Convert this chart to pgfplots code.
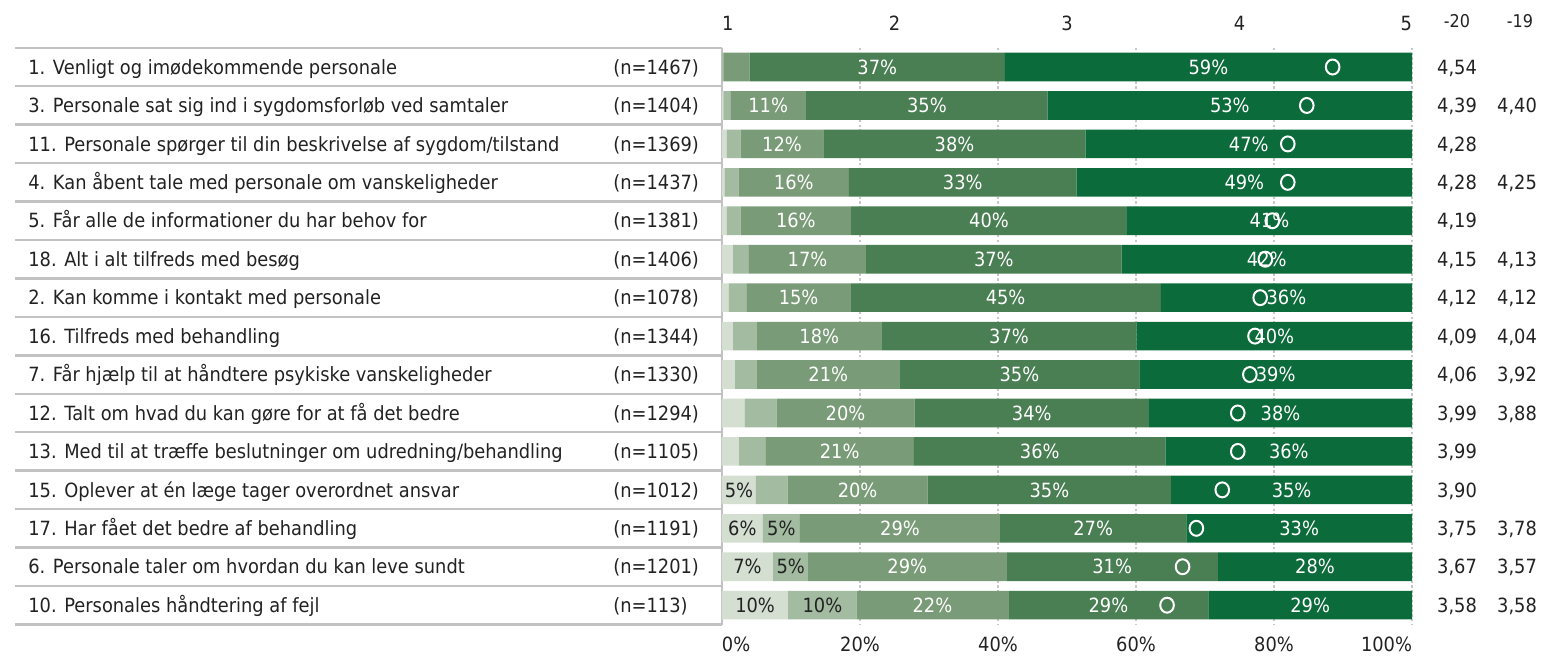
\documentclass[border=0pt]{standalone}
\usepackage{pgfplots}
\pgfplotsset{compat=1.18}
\usepackage{pgfplotstable}
\usepackage{fontspec}
\setmainfont{DejaVu Sans}[FakeStretch=0.91]
\definecolor{c1}{HTML}{D4DFD2}
\definecolor{c2}{HTML}{A3BBA1}
\definecolor{c3}{HTML}{7A9B78}
\definecolor{c4}{HTML}{4A7E53}
\definecolor{c5}{HTML}{0C6B3A}
\definecolor{sepgray}{HTML}{C2C2C2}
\definecolor{gridgray}{HTML}{C8C8C8}
\definecolor{txt}{HTML}{222222}

% segment shares (percent) per row
\pgfplotstableread{
row s1  s2  s3   s4   s5
1   0.0 0.2 3.8  37   59
2   0.2 1.0 11   35   52.8
3   0.7 2.0 12   38   47.3
4   0.4 2.0 16   33   48.6
5   0.7 2.0 16   40   41.3
6   1.6 2.3 17   37   42.1
7   1.0 2.6 15   45   36.4
8   1.6 3.5 18   37   39.9
9   1.9 3.2 20.6 34.8 39.5
10  3.3 4.6 20   34   38.1
11  2.5 3.8 21.5 36.5 35.7
12  4.9 4.6 20.3 35.3 34.9
13  5.9 5.4 29   27   32.7
14  7.4 5.1 28.7 30.7 28.1
15  9.6 9.9 22   29   29.5
}\bars

% labels on light segments (dark text): centre x, row, label
\pgfplotstableread{
x     row t
2.45  12  5
2.95  13  6
8.6   13  5
3.7   14  7
9.95  14  5
4.8   15  10
14.55 15  10
}\darklabs

% labels on darker segments (white text)
\pgfplotstableread{
x     row t
22.5  1   37
70.5  1   59
6.7   2   11
29.7  2   35
73.6  2   53
8.7   3   12
33.7  3   38
76.35 3   47
10.4  4   16
34.9  4   33
75.7  4   49
10.7  5   16
38.7  5   40
79.35 5   41
12.4  6   17
39.4  6   37
78.95 6   42
11.1  7   15
41.1  7   45
81.8  7   36
14.1  8   18
41.6  8   37
80.05 8   40
15.4  9   21
43.1  9   35
80.25 9   39
17.9  10  20
44.9  10  34
80.95 10  38
17.05 11  21
46.05 11  36
82.15 11  36
19.65 12  20
47.45 12  35
82.55 12  35
25.8  13  29
53.8  13  27
83.65 13  33
26.85 14  29
56.55 14  31
85.95 14  28
30.5  15  22
56    15  29
85.25 15  29
}\whitelabs

\pgfplotstableread{
row m    t
1   4.54 4,54
2   4.39 4,39
3   4.28 4,28
4   4.28 4,28
5   4.19 4,19
6   4.15 4,15
7   4.12 4,12
8   4.09 4,09
9   4.06 4,06
10  3.99 3,99
11  3.99 3,99
12  3.90 3,90
13  3.75 3,75
14  3.67 3,67
15  3.58 3,58
}\means

\pgfplotstableread{
row m    t
2   4.40 4,40
4   4.25 4,25
6   4.13 4,13
7   4.12 4,12
8   4.04 4,04
9   3.92 3,92
10  3.88 3,88
13  3.78 3,78
14  3.57 3,57
15  3.58 3,58
}\prev

\begin{document}
\begin{tikzpicture}[font=\fontsize{9.8bp}{11bp}\selectfont, text=txt]
\useasboundingbox (-361bp,-15.8bp) rectangle (410bp,312.2bp);
\begin{axis}[
  at={(0,0)}, anchor=south west, scale only axis,
  width=345bp, height=288.3bp,
  xmin=0, xmax=100, ymin=0.5, ymax=15.5, y dir=reverse,
  axis line style={draw=none}, ytick=\empty,
  xtick={0,20,40,60,80,100},
  xticklabels={\makebox[0pt][l]{0\%},20\%,40\%,60\%,80\%,\makebox[0pt][r]{100\%}},
  xticklabel style={anchor=base, yshift=-13.3bp, text=txt},
  major tick length=0pt,
  xmajorgrids,
  grid style={gridgray, line width=0.9bp, dash pattern=on 1.2bp off 1.2bp},
  clip=false,
]
\draw[sepgray, line width=1.2bp] (axis cs:-102.46,0.5) -- (axis cs:0,0.5);
\draw[sepgray, line width=1.2bp] (axis cs:-102.46,1.5) -- (axis cs:0,1.5);
\draw[sepgray, line width=1.2bp] (axis cs:-102.46,2.5) -- (axis cs:0,2.5);
\draw[sepgray, line width=1.2bp] (axis cs:-102.46,3.5) -- (axis cs:0,3.5);
\draw[sepgray, line width=1.2bp] (axis cs:-102.46,4.5) -- (axis cs:0,4.5);
\draw[sepgray, line width=1.2bp] (axis cs:-102.46,5.5) -- (axis cs:0,5.5);
\draw[sepgray, line width=1.2bp] (axis cs:-102.46,6.5) -- (axis cs:0,6.5);
\draw[sepgray, line width=1.2bp] (axis cs:-102.46,7.5) -- (axis cs:0,7.5);
\draw[sepgray, line width=1.2bp] (axis cs:-102.46,8.5) -- (axis cs:0,8.5);
\draw[sepgray, line width=1.2bp] (axis cs:-102.46,9.5) -- (axis cs:0,9.5);
\draw[sepgray, line width=1.2bp] (axis cs:-102.46,10.5) -- (axis cs:0,10.5);
\draw[sepgray, line width=1.2bp] (axis cs:-102.46,11.5) -- (axis cs:0,11.5);
\draw[sepgray, line width=1.2bp] (axis cs:-102.46,12.5) -- (axis cs:0,12.5);
\draw[sepgray, line width=1.2bp] (axis cs:-102.46,13.5) -- (axis cs:0,13.5);
\draw[sepgray, line width=1.2bp] (axis cs:-102.46,14.5) -- (axis cs:0,14.5);
\draw[sepgray, line width=1.2bp] (axis cs:-102.46,15.5) -- (axis cs:0,15.5);
\draw[sepgray, line width=1bp] (axis cs:0,0.5) -- (axis cs:0,15.5);

\addplot[xbar stacked, bar width=14.3bp, fill=c1, draw=none] table[x=s1, y=row]{\bars};
\addplot[xbar stacked, bar width=14.3bp, fill=c2, draw=none] table[x=s2, y=row]{\bars};
\addplot[xbar stacked, bar width=14.3bp, fill=c3, draw=none] table[x=s3, y=row]{\bars};
\addplot[xbar stacked, bar width=14.3bp, fill=c4, draw=none] table[x=s4, y=row]{\bars};
\addplot[xbar stacked, bar width=14.3bp, fill=c5, draw=none] table[x=s5, y=row]{\bars};

\node[anchor=base west, inner sep=0pt, yshift=-3.6bp] at (axis cs:-100.58,1) {1. Venligt og imødekommende personale};
\node[anchor=base west, inner sep=0pt, yshift=-3.6bp] at (axis cs:-100.58,2) {3. Personale sat sig ind i sygdomsforløb ved samtaler};
\node[anchor=base west, inner sep=0pt, yshift=-3.6bp] at (axis cs:-100.58,3) {11. Personale spørger til din beskrivelse af sygdom/tilstand};
\node[anchor=base west, inner sep=0pt, yshift=-3.6bp] at (axis cs:-100.58,4) {4. Kan åbent tale med personale om vanskeligheder};
\node[anchor=base west, inner sep=0pt, yshift=-3.6bp] at (axis cs:-100.58,5) {5. Får alle de informationer du har behov for};
\node[anchor=base west, inner sep=0pt, yshift=-3.6bp] at (axis cs:-100.58,6) {18. Alt i alt tilfreds med besøg};
\node[anchor=base west, inner sep=0pt, yshift=-3.6bp] at (axis cs:-100.58,7) {2. Kan komme i kontakt med personale};
\node[anchor=base west, inner sep=0pt, yshift=-3.6bp] at (axis cs:-100.58,8) {16. Tilfreds med behandling};
\node[anchor=base west, inner sep=0pt, yshift=-3.6bp] at (axis cs:-100.58,9) {7. Får hjælp til at håndtere psykiske vanskeligheder};
\node[anchor=base west, inner sep=0pt, yshift=-3.6bp] at (axis cs:-100.58,10) {12. Talt om hvad du kan gøre for at få det bedre};
\node[anchor=base west, inner sep=0pt, yshift=-3.6bp] at (axis cs:-100.58,11) {13. Med til at træffe beslutninger om udredning/behandling};
\node[anchor=base west, inner sep=0pt, yshift=-3.6bp] at (axis cs:-100.58,12) {15. Oplever at én læge tager overordnet ansvar};
\node[anchor=base west, inner sep=0pt, yshift=-3.6bp] at (axis cs:-100.58,13) {17. Har fået det bedre af behandling};
\node[anchor=base west, inner sep=0pt, yshift=-3.6bp] at (axis cs:-100.58,14) {6. Personale taler om hvordan du kan leve sundt};
\node[anchor=base west, inner sep=0pt, yshift=-3.6bp] at (axis cs:-100.58,15) {10. Personales håndtering af fejl};
\node[anchor=base west, inner sep=0pt, yshift=-3.6bp] at (axis cs:-15.8,1) {(n=1467)};
\node[anchor=base west, inner sep=0pt, yshift=-3.6bp] at (axis cs:-15.8,2) {(n=1404)};
\node[anchor=base west, inner sep=0pt, yshift=-3.6bp] at (axis cs:-15.8,3) {(n=1369)};
\node[anchor=base west, inner sep=0pt, yshift=-3.6bp] at (axis cs:-15.8,4) {(n=1437)};
\node[anchor=base west, inner sep=0pt, yshift=-3.6bp] at (axis cs:-15.8,5) {(n=1381)};
\node[anchor=base west, inner sep=0pt, yshift=-3.6bp] at (axis cs:-15.8,6) {(n=1406)};
\node[anchor=base west, inner sep=0pt, yshift=-3.6bp] at (axis cs:-15.8,7) {(n=1078)};
\node[anchor=base west, inner sep=0pt, yshift=-3.6bp] at (axis cs:-15.8,8) {(n=1344)};
\node[anchor=base west, inner sep=0pt, yshift=-3.6bp] at (axis cs:-15.8,9) {(n=1330)};
\node[anchor=base west, inner sep=0pt, yshift=-3.6bp] at (axis cs:-15.8,10) {(n=1294)};
\node[anchor=base west, inner sep=0pt, yshift=-3.6bp] at (axis cs:-15.8,11) {(n=1105)};
\node[anchor=base west, inner sep=0pt, yshift=-3.6bp] at (axis cs:-15.8,12) {(n=1012)};
\node[anchor=base west, inner sep=0pt, yshift=-3.6bp] at (axis cs:-15.8,13) {(n=1191)};
\node[anchor=base west, inner sep=0pt, yshift=-3.6bp] at (axis cs:-15.8,14) {(n=1201)};
\node[anchor=base west, inner sep=0pt, yshift=-3.6bp] at (axis cs:-15.8,15) {(n=113)};

\addplot[draw=none, mark=none, nodes near coords={\pgfplotspointmeta\%},
  point meta=explicit symbolic,
  every node near coord/.append style={anchor=base, yshift=-3.6bp, text=txt}]
  table[x=x, y=row, meta=t]{\darklabs};
\addplot[draw=none, mark=none, nodes near coords={\pgfplotspointmeta\%},
  point meta=explicit symbolic,
  every node near coord/.append style={anchor=base, yshift=-3.6bp, text=white}]
  table[x=x, y=row, meta=t]{\whitelabs};
\end{axis}

\begin{axis}[
  at={(0,0)}, anchor=south west, scale only axis,
  width=345bp, height=288.3bp,
  xmin=1, xmax=5, ymin=0.5, ymax=15.5, y dir=reverse,
  axis line style={draw=none}, ytick=\empty,
  xtick={1,2,3,4,5},
  xticklabels={\makebox[0pt][l]{1},2,3,4,\makebox[0pt][r]{5}},
  xticklabel pos=right,
  xticklabel style={anchor=base, yshift=8.9bp, text=txt},
  major tick length=0pt,
  clip=false,
]
\addplot[only marks, mark=o, mark size=3.4bp,
  mark options={draw=white, line width=1bp, yscale=1.1}] table[x=m, y=row]{\means};
\addplot[draw=none, mark=none, nodes near coords={\pgfplotspointmeta},
  point meta=explicit symbolic,
  every node near coord/.append style={anchor=base, yshift=-3.6bp, text=txt}]
  table[x expr=5.261, y=row, meta=t]{\means};
\addplot[draw=none, mark=none, nodes near coords={\pgfplotspointmeta},
  point meta=explicit symbolic,
  every node near coord/.append style={anchor=base, yshift=-3.6bp, text=txt}]
  table[x expr=5.609, y=row, meta=t]{\prev};
\node[anchor=base, font=\fontsize{8.8bp}{10bp}\selectfont] at (axis cs:5.261,-0.041) {-20};
\node[anchor=base, font=\fontsize{8.8bp}{10bp}\selectfont] at (axis cs:5.626,-0.041) {-19};
\end{axis}
\end{tikzpicture}
\end{document}
